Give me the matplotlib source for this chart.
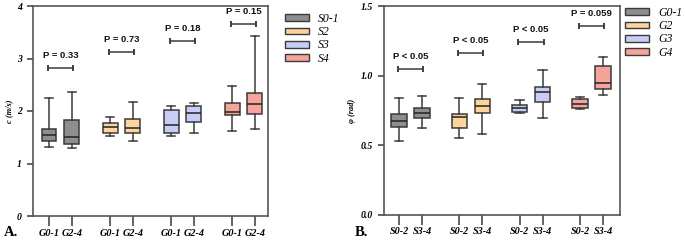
import matplotlib
matplotlib.use("Agg")
import matplotlib.pyplot as plt
from matplotlib.patches import Patch

# ---------------- data ----------------
A_groups = ["S0-1", "S2", "S3", "S4"]
A_ticklabels = ["G0-1", "G2-4"]
A_whislo = [1.32, 1.30, 1.53, 1.43, 1.53, 1.59, 1.61, 1.66]
A_q1     = [1.43, 1.37, 1.59, 1.58, 1.58, 1.79, 1.92, 1.95]
A_med    = [1.54, 1.51, 1.70, 1.68, 1.74, 1.96, 1.98, 2.14]
A_q3     = [1.65, 1.82, 1.77, 1.85, 2.02, 2.10, 2.15, 2.35]
A_whishi = [2.24, 2.37, 1.88, 2.17, 2.10, 2.16, 2.48, 3.43]
A_pvals  = ["P = 0.33", "P = 0.73", "P = 0.18", "P = 0.15"]
A_bracket = [2.81, 3.12, 3.33, 3.65]
A_yticks = [0, 1, 2, 3, 4]
A_yticklabels = ["0", "1", "2", "3", "4"]

B_groups = ["G0-1", "G2", "G3", "G4"]
B_ticklabels = ["S0-2", "S3-4"]
B_whislo = [0.533, 0.625, 0.555, 0.581, 0.734, 0.694, 0.763, 0.861]
B_q1     = [0.634, 0.696, 0.627, 0.730, 0.739, 0.811, 0.770, 0.907]
B_med    = [0.675, 0.732, 0.706, 0.782, 0.770, 0.881, 0.797, 0.945]
B_q3     = [0.723, 0.770, 0.725, 0.836, 0.792, 0.919, 0.836, 1.067]
B_whishi = [0.842, 0.854, 0.842, 0.943, 0.823, 1.041, 0.849, 1.132]
B_pvals  = ["P < 0.05", "P < 0.05", "P < 0.05", "P = 0.059"]
B_bracket = [1.048, 1.161, 1.240, 1.354]
B_yticks = [0.0, 0.5, 1.0, 1.5]
B_yticklabels = ["0.0", "0.5", "1.0", "1.5"]

colors = ["#8e8e8e", "#fcd49c", "#c8cdf6", "#f6a39b"]
edge = "#3a3a3a"

serif = "Liberation Serif"
sans = "Liberation Sans"

fig = plt.figure(figsize=(6.85, 2.41), dpi=100)


def panel(rect, whislo, q1, med, q3, whishi, groups, ticklabels, pvals, bracket,
          yticks, yticklabels, ylim, ylabel, gap, xlim, tag, legend_anchor):
    ax = fig.add_axes(rect)
    positions = []
    for g in range(4):
        positions += [g * gap, g * gap + 1]
    stats = []
    for i in range(8):
        stats.append(dict(whislo=whislo[i], q1=q1[i], med=med[i], q3=q3[i],
                          whishi=whishi[i], fliers=[]))
    bp = ax.bxp(stats, positions=positions, widths=0.66, capwidths=0.36,
                patch_artist=True, showfliers=False,
                boxprops=dict(edgecolor=edge, linewidth=1.1),
                medianprops=dict(color="#222222", linewidth=1.1),
                whiskerprops=dict(color=edge, linewidth=1.1),
                capprops=dict(color=edge, linewidth=1.1))
    for i, box in enumerate(bp["boxes"]):
        box.set_facecolor(colors[i // 2])
    # brackets and p-values
    for g in range(4):
        x0 = g * gap - 0.05
        x1 = g * gap + 1.05
        y = bracket[g]
        ax.plot([x0, x1], [y, y], color=edge, lw=1.1, solid_capstyle="butt")
        ax.plot([x0, x0], [y, y], marker="|", ms=4, mew=1.1, color=edge)
        ax.plot([x1, x1], [y, y], marker="|", ms=4, mew=1.1, color=edge)
        ax.annotate(pvals[g], xy=((x0 + x1) / 2, y), xytext=(0, 9),
                    textcoords="offset points", ha="center", va="center",
                    fontsize=6.8, fontweight="bold", family=sans, color="#111111")
    ax.set_xlim(*xlim)
    ax.set_ylim(*ylim)
    ax.set_xticks(positions)
    ax.set_xticklabels(ticklabels * 4, fontsize=7.3, fontweight="bold",
                       fontstyle="italic", family=serif)
    ax.set_yticks(yticks)
    ax.set_yticklabels(yticklabels, fontsize=7, fontweight="bold",
                       fontstyle="italic", family=serif)
    ax.tick_params(axis="x", length=7, width=1.1, color=edge, pad=2)
    ax.tick_params(axis="y", length=4, width=1.1, color=edge, pad=4)
    for s in ax.spines.values():
        s.set_color("#555555")
        s.set_linewidth(1.2)
    ax.set_ylabel(ylabel, fontsize=6, fontweight="bold", fontstyle="italic",
                  family=serif, labelpad=3)
    handles = [Patch(facecolor=colors[i], edgecolor=edge, linewidth=1.0)
               for i in range(4)]
    fig.legend(handles, groups, loc="upper left", bbox_to_anchor=legend_anchor,
               bbox_transform=fig.transFigure, frameon=False, borderpad=0,
               borderaxespad=0, handlelength=2.0, handleheight=0.5,
               handletextpad=0.8, labelspacing=0.1,
               prop=dict(family=serif, style="italic", size=8.5))
    fig.text(rect[0] - 0.042, 0.035, tag, fontsize=10.5, fontweight="bold",
             family=serif, ha="left", va="center")
    return ax


axA = panel([33 / 685, 25 / 241, 235 / 685, 210 / 241],
            A_whislo, A_q1, A_med, A_q3, A_whishi, A_groups, A_ticklabels,
            A_pvals, A_bracket, A_yticks, A_yticklabels, (0, 4), "c (m/s)",
            2.69, (-0.705, 9.65), "A.", (285 / 685, 1 - 13 / 241))
axB = panel([384 / 685, 26 / 241, 236 / 685, 209 / 241],
            B_whislo, B_q1, B_med, B_q3, B_whishi, B_groups, B_ticklabels,
            B_pvals, B_bracket, B_yticks, B_yticklabels, (0, 1.5), "φ (rad)",
            2.62, (-0.65, 9.6), "B.", (625 / 685, 1 - 7 / 241))

fig.savefig("out.png", dpi=100)
